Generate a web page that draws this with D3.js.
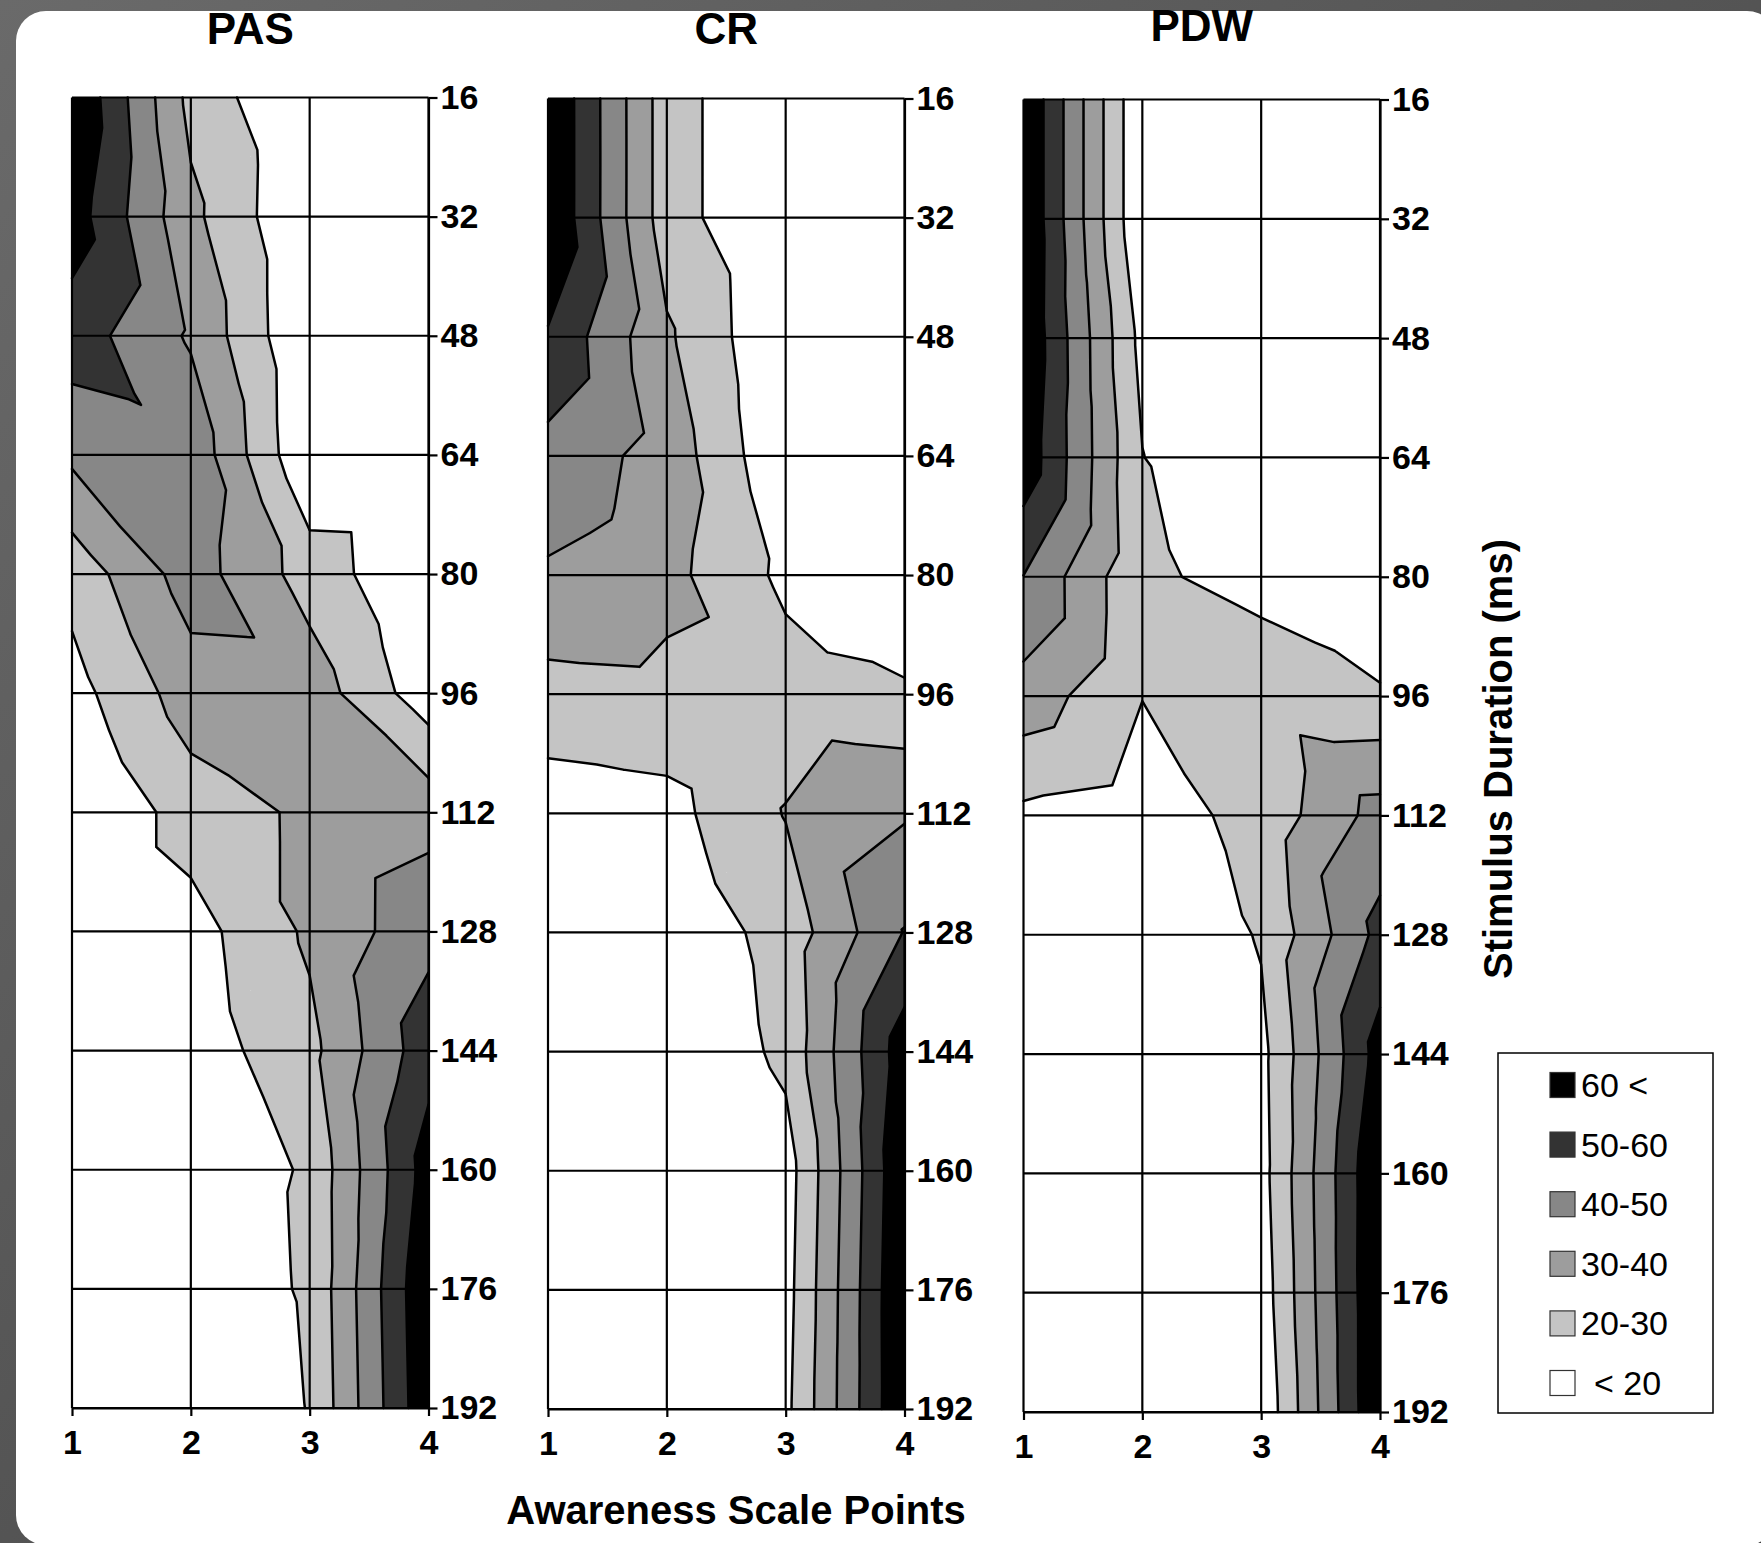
<!DOCTYPE html>
<html>
<head>
<meta charset="utf-8">
<script src="https://cdn.jsdelivr.net/npm/d3@7"></script>
<style>
  body { margin: 0; background: #fff; }
  text { font-family: "Liberation Sans", Arial, Helvetica, sans-serif; }
</style>
</head>
<body>
<script>
// --- data ---------------------------------------------------------------
const durations = [16, 32, 48, 64, 80, 96, 112, 128, 144, 160, 176, 192];
const scalePoints = [1, 2, 3, 4];
const levels = [20, 30, 40, 50, 60];
const bandNames = ["< 20", "20-30", "30-40", "40-50", "50-60", "60 <"];
const bandColors = ["#ffffff", "#c4c4c4", "#9d9d9d", "#878787", "#333333", "#000000"];

// values at each grid node: one row per duration, one column per scale point
const pasValues = [
  [70.3, 27, 9, 5],
  [65, 32.5, 10, 5],
  [55.3, 38.7, 10, 5],
  [42.2, 47.4, 10.4, 5],
  [23.5, 44.8, 25.6, 10.6],
  [16.2, 35.1, 35.6, 14],
  [7.8, 25, 31.7, 36.5],
  [5, 15.9, 31.7, 46.8],
  [5, 14.4, 27.1, 56.1],
  [5, 8.9, 21.8, 64.7],
  [5, 12, 21.4, 69],
  [5, 8, 20.5, 68]
];
// values at the middle of each grid cell
const pasMid = [
  [50, 21.5, 7],
  [52, 24, 8],
  [50.5, 27.9, 8],
  [44, 34.9, 17.6],
  [30.2, 40.3, 21.8],
  [22.3, 33, 36.5],
  [16.4, 28.3, 39.2],
  [10, 22.9, 42.9],
  [8, 18, 44.5],
  [7, 17, 44],
  [7, 15, 44.7]
];

const crValues = [
  [70, 24.5, 9.5, 5],
  [70, 24.5, 9.5, 5],
  [59, 31.5, 10.5, 5],
  [46.4, 36.25, 11.25, 5],
  [38.8, 33.1, 17.7, 5],
  [26.4, 27.2, 24.7, 22.4],
  [14.5, 16.7, 30.5, 39],
  [5, 12.4, 23.9, 50.5],
  [5, 8, 22.7, 65.6],
  [5, 5, 15.1, 69.2],
  [5, 5, 16.2, 70.3],
  [5, 5, 17.4, 70]
];
const crMid = [
  [47.3, 17, 7],
  [49.8, 20.7, 7.5],
  [46, 22.4, 8],
  [40.5, 26, 10],
  [33.3, 28.7, 18],
  [21.2, 24.65, 31.5],
  [12, 21.7, 40.2],
  [7, 16.75, 43],
  [5, 12.7, 43.2],
  [5, 10, 42.7],
  [5, 11, 43.5]
];

const pdwValues = [
  [70, 10.6, 5, 5],
  [70, 10.6, 5, 5],
  [69.5, 16.8, 5, 5],
  [67, 20.3, 5, 5],
  [49.8, 21.4, 17.2, 5],
  [36, 20.2, 25.4, 21.9],
  [17.8, 15.5, 23.1, 43.9],
  [5, 8, 21, 53],
  [5, 5, 17, 64.5],
  [5, 5, 16.2, 70.3],
  [5, 5, 14.4, 70.6],
  [5, 5, 11.7, 70.6]
];
const pdwMid = [
  [40.3, 7.8, 5],
  [41.7, 9.4, 5],
  [43.4, 11.8, 5],
  [43, 18.3, 8],
  [35.7, 23.4, 19.4],
  [24.4, 21.9, 32.4],
  [11.6, 17.9, 39.8],
  [5, 12.7, 42.2],
  [5, 10.8, 42],
  [5, 10, 42.9],
  [5, 9, 41.8]
];

// --- layout -------------------------------------------------------------
const W = 1761, H = 1543;
const panels = [
  { name: "PAS", values: pasValues, mid: pasMid, left: 72, right: 428.5, top: 97.5, bottom: 1408, titleY: 44 },
  { name: "CR", values: crValues, mid: crMid, left: 548, right: 904.5, top: 98.5, bottom: 1409, titleY: 44 },
  { name: "PDW", values: pdwValues, mid: pdwMid, left: 1023.5, right: 1380, top: 99.5, bottom: 1412, titleY: 41 }
];

const svg = d3.select("body").append("svg")
  .attr("width", W)
  .attr("height", H);

// dark frame + white page
const grad = svg.append("defs").append("linearGradient")
  .attr("id", "frame").attr("x1", 0).attr("y1", 0).attr("x2", 1).attr("y2", 1);
grad.append("stop").attr("offset", "0%").attr("stop-color", "#6a6a6a");
grad.append("stop").attr("offset", "100%").attr("stop-color", "#3e3e3e");
svg.append("rect").attr("width", W).attr("height", H).attr("fill", "url(#frame)");
svg.append("rect")
  .attr("x", 16).attr("y", 11)
  .attr("width", W).attr("height", H - 9)
  .attr("rx", 30)
  .attr("fill", "#fff");

// split a polygon by a linear value field
function crossing(a, b, t) {
  const s = (t - a.v) / (b.v - a.v);
  return { x: a.x + s * (b.x - a.x), y: a.y + s * (b.y - a.y), v: t };
}
function keep(poly, test, t) {
  const out = [];
  poly.forEach((a, i) => {
    const b = poly[(i + 1) % poly.length];
    const ain = test(a.v), bin = test(b.v);
    if (ain) out.push(a);
    if (ain !== bin) out.push(crossing(a, b, t));
  });
  return out;
}

function drawPanel(p) {
  const x = d3.scaleLinear().domain([1, 4]).range([p.left, p.right]);
  const y = d3.scaleLinear().domain([16, 192]).range([p.top, p.bottom]);
  const g = svg.append("g");

  // triangles: each cell split into four around its middle value
  const tris = [];
  for (let r = 0; r < durations.length - 1; r++) {
    for (let c = 0; c < scalePoints.length - 1; c++) {
      const tl = { x: scalePoints[c], y: durations[r], v: p.values[r][c] };
      const tr = { x: scalePoints[c + 1], y: durations[r], v: p.values[r][c + 1] };
      const br = { x: scalePoints[c + 1], y: durations[r + 1], v: p.values[r + 1][c + 1] };
      const bl = { x: scalePoints[c], y: durations[r + 1], v: p.values[r + 1][c] };
      const m = { x: (tl.x + tr.x) / 2, y: (tl.y + bl.y) / 2, v: p.mid[r][c] };
      tris.push([tl, tr, m], [tr, br, m], [br, bl, m], [bl, tl, m]);
    }
  }

  const line = d3.line().x(d => x(d.x)).y(d => y(d.y));

  // filled bands
  bandColors.forEach((color, k) => {
    const lo = k === 0 ? -Infinity : levels[k - 1];
    const hi = k === levels.length ? Infinity : levels[k];
    let d = "";
    tris.forEach(tri => {
      let poly = tri;
      if (lo > -Infinity) poly = keep(poly, v => v >= lo, lo);
      if (poly.length && hi < Infinity) poly = keep(poly, v => v < hi, hi);
      if (poly.length >= 3) d += line(poly) + "Z";
    });
    g.append("path").attr("d", d).attr("fill", color);
  });

  // grid
  g.append("g").selectAll("line.h").data(durations).join("line")
    .attr("x1", x(1)).attr("x2", x(4))
    .attr("y1", d => y(d)).attr("y2", d => y(d))
    .attr("stroke", "#000").attr("stroke-width", 2.2);
  g.append("g").selectAll("line.v").data(scalePoints).join("line")
    .attr("x1", d => x(d)).attr("x2", d => x(d))
    .attr("y1", y(16)).attr("y2", y(192))
    .attr("stroke", "#000").attr("stroke-width", 2.2);

  // contour lines
  let cd = "";
  tris.forEach(tri => {
    levels.forEach(t => {
      const pts = [];
      tri.forEach((a, i) => {
        const b = tri[(i + 1) % 3];
        if ((a.v >= t) !== (b.v >= t)) pts.push(crossing(a, b, t));
      });
      if (pts.length === 2) cd += line(pts);
    });
  });
  g.append("path").attr("d", cd)
    .attr("fill", "none").attr("stroke", "#000")
    .attr("stroke-width", 2.5).attr("stroke-linecap", "round");

  // axes
  const yAxis = g.append("g")
    .attr("transform", `translate(${x(4)},0)`)
    .call(d3.axisRight(y).tickValues(durations).tickSize(9).tickPadding(3).tickSizeOuter(0));
  const xAxis = g.append("g")
    .attr("transform", `translate(0,${y(192)})`)
    .call(d3.axisBottom(x).tickValues(scalePoints).tickFormat(d3.format("d")).tickSize(8).tickPadding(14).tickSizeOuter(0));
  [yAxis, xAxis].forEach(a => {
    a.select(".domain").attr("stroke", "#000").attr("stroke-width", 2.2);
    a.selectAll(".tick line").attr("stroke", "#000").attr("stroke-width", 2.2);
    a.selectAll(".tick text")
      .attr("fill", "#000")
      .style("font-size", "34px")
      .style("font-weight", "bold")
      .style("font-family", "'Liberation Sans', Arial, sans-serif");
  });

  svg.append("text")
    .attr("x", (p.left + p.right) / 2).attr("y", p.titleY)
    .attr("text-anchor", "middle")
    .style("font-size", "44px").style("font-weight", "bold")
    .text(p.name);
}

panels.forEach(drawPanel);

// axis titles
svg.append("text")
  .attr("x", 736).attr("y", 1524)
  .attr("text-anchor", "middle")
  .style("font-size", "40px").style("font-weight", "bold")
  .text("Awareness Scale Points");
svg.append("text")
  .attr("transform", "translate(1512,759) rotate(-90)")
  .attr("text-anchor", "middle")
  .style("font-size", "40px").style("font-weight", "bold")
  .text("Stimulus Duration (ms)");

// legend
const legend = svg.append("g").attr("transform", "translate(1498,1053)");
legend.append("rect")
  .attr("width", 215).attr("height", 360)
  .attr("fill", "#fff").attr("stroke", "#000").attr("stroke-width", 1.5);
const items = bandNames.map((name, i) => ({ name, color: bandColors[i] })).reverse();
const item = legend.selectAll("g.item").data(items).join("g")
  .attr("class", "item")
  .attr("transform", (d, i) => `translate(52,${32 + i * 59.6})`);
item.append("rect")
  .attr("x", 0).attr("y", -12.5).attr("width", 25).attr("height", 25)
  .attr("fill", d => d.color).attr("stroke", "#333").attr("stroke-width", 1.2);
item.append("text")
  .attr("x", d => d.name.startsWith("<") ? 44 : 31).attr("y", 12)
  .style("font-size", "34px")
  .text(d => d.name);
</script>
</body>
</html>
